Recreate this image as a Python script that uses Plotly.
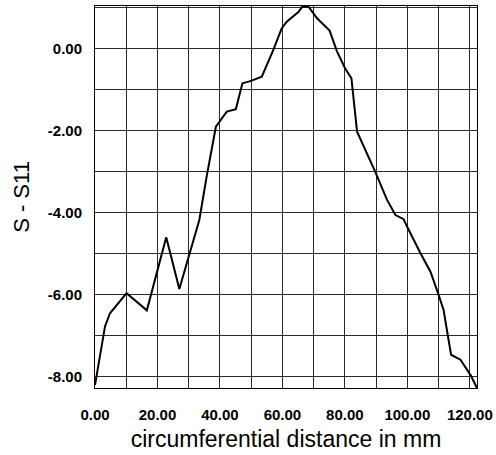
import plotly.graph_objects as go

dist_mm = [0.0, 3.2, 4.8, 10.1, 16.6, 22.8, 27.0, 30.2, 33.4, 35.8, 38.7, 42.2, 45.1,
           47.2, 49.7, 53.4, 57.1, 59.8, 61.4, 65.2, 66.3, 68.4, 71.1, 75.1, 77.5,
           80.1, 82.1, 83.9, 89.7, 93.5, 96.2, 98.8, 99.9, 104.2, 107.4, 110.0,
           111.6, 114.0, 117.0, 120.2, 122.3]
s11 = [-8.2, -6.77, -6.45, -5.96, -6.38, -4.6, -5.86, -4.99, -4.18, -3.1, -1.91, -1.54, -1.48,
       -0.85, -0.80, -0.69, -0.04, 0.49, 0.65, 0.89, 1.01, 1.01, 0.73, 0.43, -0.08,
       -0.49, -0.73, -2.03, -3.0, -3.69, -4.06, -4.16, -4.34, -4.99, -5.44, -6.0,
       -6.37, -7.46, -7.58, -7.95, -8.27]

x_ticks = [0, 20, 40, 60, 80, 100, 120]
x_ticktext = ["0.00", "20.00", "40.00", "60.00", "80.00", "100.00", "120.00"]
y_ticks = [-8, -6, -4, -2, 0]
y_ticktext = ["-8.00", "-6.00", "-4.00", "-2.00", "0.00"]

FAM = "Liberation Sans, Arial, sans-serif"

fig = go.Figure()
fig.add_trace(go.Scatter(x=dist_mm, y=s11, mode="lines",
                         line=dict(color="black", width=2), showlegend=False))

fig.update_layout(
    width=496, height=455,
    margin=dict(l=95, r=19, t=6, b=67),
    paper_bgcolor="white", plot_bgcolor="white",
    font=dict(family=FAM, color="black"),
)
fig.update_xaxes(
    range=[0, 122.3], tickvals=x_ticks, ticktext=x_ticktext,
    tickfont=dict(size=15, family=FAM, color="black", weight="bold"),
    showgrid=True, gridcolor="#2a2a2a", gridwidth=1,
    minor=dict(dtick=10, tick0=0, showgrid=True, gridcolor="#2a2a2a", gridwidth=1),
    showline=True, linecolor="black", linewidth=1, mirror=True,
    zeroline=False, ticks="", ticklabelstandoff=13, automargin=False,
    title=dict(text="circumferential distance in mm", font=dict(size=23, family=FAM), standoff=8),
)
fig.update_yaxes(
    range=[-8.27, 1.03], tickvals=y_ticks, ticktext=y_ticktext,
    tickfont=dict(size=15, family=FAM, color="black", weight="bold"),
    showgrid=True, gridcolor="#2a2a2a", gridwidth=1,
    minor=dict(dtick=1, tick0=0, showgrid=True, gridcolor="#2a2a2a", gridwidth=1),
    showline=True, linecolor="black", linewidth=1, mirror=True,
    zeroline=False, ticks="", ticklabelstandoff=9, automargin=False,
    title=dict(text="S - S11", font=dict(size=22, family=FAM), standoff=12),
)

fig.write_html("out.html")
